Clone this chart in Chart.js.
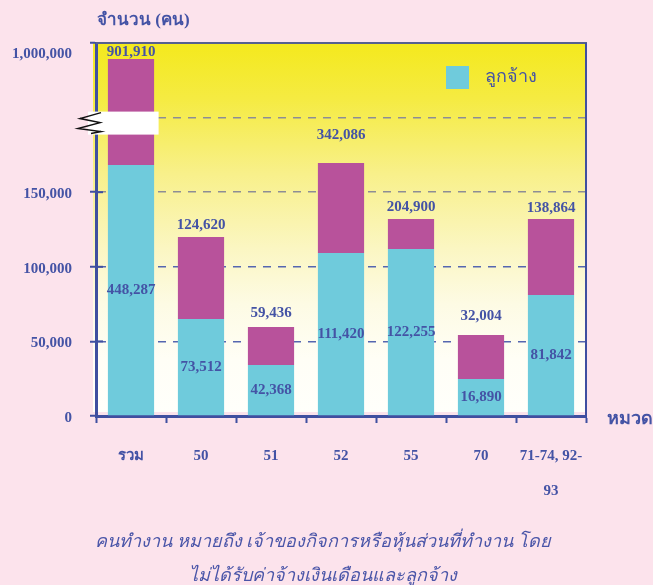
<!DOCTYPE html>
<html><head><meta charset="utf-8">
<script src="https://cdn.jsdelivr.net/npm/chart.js@4.4.1/dist/chart.umd.min.js"></script>
<style>html,body{margin:0;padding:0;background:#fce3ec;}canvas{display:block;}</style>
</head><body>
<canvas id="c" width="653" height="585"></canvas>
<script>
const categories = ['รวม', '50', '51', '52', '55', '70', ['71-74, 92-', '93']];
const employeeValues = [168200, 65000, 34200, 109200, 112000, 24800, 81100];
const ownerValues = [71000, 55000, 25500, 60300, 20000, 29500, 51000];
const employeeLabels = ['448,287', '73,512', '42,368', '111,420', '122,255', '16,890', '81,842'];
const totalLabels = ['901,910', '124,620', '59,436', '342,086', '204,900', '32,004', '138,864'];
const yTickValues = [0, 50000, 100000, 150000, 200000, 250000];
const yTickLabels = ['0', '50,000', '100,000', '150,000', '', '1,000,000'];
const legendLabel = 'ลูกจ้าง';
const yAxisTitle = 'จำนวน (คน)';
const xAxisTitle = 'หมวด';
const noteLines = ['คนทำงาน หมายถึง เจ้าของกิจการหรือหุ้นส่วนที่ทำงาน โดย', 'ไม่ได้รับค่าจ้างเงินเดือนและลูกจ้าง'];

const SERIF = "'Liberation Serif', 'Times New Roman', 'DejaVu Serif', serif";
const TXT = '#4453a5';
const AXIS = '#3f4fa0';
const CYAN = '#6fcbdc';
const MAGENTA = '#b8529b';

const decor = {
  id: 'decor',
  beforeDraw(chart) {
    const {ctx, chartArea: a} = chart;
    const g = ctx.createLinearGradient(0, a.top, 0, a.bottom);
    g.addColorStop(0, '#f4e91d');
    g.addColorStop(0.15, '#f5eb42');
    g.addColorStop(0.35, '#f8f08a');
    g.addColorStop(0.55, '#fbf6c2');
    g.addColorStop(0.7, '#fdfbe4');
    g.addColorStop(0.85, '#fffef6');
    g.addColorStop(1, '#fffffb');
    ctx.save();
    ctx.fillStyle = g;
    ctx.fillRect(a.left - 3, a.top, a.right - a.left + 3, a.bottom - a.top);
    ctx.fillStyle = '#fbe3ec';
    ctx.fillRect(a.left - 3, a.bottom - 4, a.right - a.left + 3, 4);
    ctx.restore();
  },
  afterDatasetsDraw(chart, args, opts) {
    const {ctx} = chart;
    const m0 = chart.getDatasetMeta(0).data;
    const m1 = chart.getDatasetMeta(1).data;
    ctx.save();
    ctx.font = 'bold 15px ' + SERIF;
    ctx.fillStyle = TXT;
    ctx.textAlign = 'center';
    ctx.textBaseline = 'middle';
    m0.forEach((bar, i) => {
      ctx.fillText(employeeLabels[i], bar.x, (bar.y + bar.base) / 2);
    });
    m1.forEach((bar, i) => {
      ctx.fillText(totalLabels[i], bar.x, bar.y - opts.topGap[i]);
    });
    ctx.restore();
  },
  afterDraw(chart) {
    const {ctx, chartArea: a, scales} = chart;
    const y = scales.y;
    ctx.save();
    // inward tick marks on the y axis
    ctx.strokeStyle = AXIS;
    ctx.lineWidth = 2;
    yTickValues.forEach(v => {
      const py = y.getPixelForValue(v);
      ctx.beginPath(); ctx.moveTo(a.left, py); ctx.lineTo(a.left + 7, py); ctx.stroke();
    });
    // top and right frame
    ctx.strokeStyle = '#56608e';
    ctx.lineWidth = 2;
    ctx.beginPath(); ctx.moveTo(a.left, a.top); ctx.lineTo(a.right + 1, a.top); ctx.stroke();
    ctx.strokeStyle = AXIS;
    ctx.beginPath(); ctx.moveTo(a.right, a.top); ctx.lineTo(a.right, a.bottom); ctx.stroke();
    // axis break
    const y0 = y.getPixelForValue(200000);
    const first = chart.getDatasetMeta(0).data[0];
    ctx.fillStyle = '#ffffff';
    ctx.fillRect(a.left - 8, y0 - 6, first.x + first.width / 2 + 4.5 - (a.left - 8), 23);
    ctx.strokeStyle = '#111111';
    ctx.lineWidth = 1.5;
    ctx.beginPath();
    const zz = [[5, -5], [-16, 1], [4, 5], [-18, 11], [5, 14], [-5, 16]];
    zz.forEach((p, i) => {
      const px = a.left + p[0], py = y0 + p[1];
      if (i === 0) ctx.moveTo(px, py); else ctx.lineTo(px, py);
    });
    ctx.stroke();
    // legend
    ctx.fillStyle = CYAN;
    ctx.fillRect(446, 66, 23, 23);
    ctx.fillStyle = TXT;
    ctx.font = '18px ' + SERIF;
    ctx.textAlign = 'left';
    ctx.textBaseline = 'middle';
    ctx.fillText(chart.data.datasets[0].label, 485, 77);
    // axis titles
    ctx.font = 'bold 17px ' + SERIF;
    ctx.fillText(yAxisTitle, 97, 21);
    ctx.font = 'bold 18px ' + SERIF;
    ctx.fillText(xAxisTitle, 607, 419);
    // notes
    ctx.font = 'italic 18px ' + SERIF;
    ctx.fillStyle = '#4a55a8';
    ctx.textAlign = 'center';
    ctx.fillText(noteLines[0], 323, 542);
    ctx.fillText(noteLines[1], 323, 576);
    ctx.restore();
  }
};

new Chart(document.getElementById('c'), {
  type: 'bar',
  data: {
    labels: categories,
    datasets: [
      { label: legendLabel, data: employeeValues, backgroundColor: CYAN, borderWidth: 0 },
      { label: 'เจ้าของ', data: ownerValues, backgroundColor: MAGENTA, borderWidth: 0 }
    ]
  },
  options: {
    responsive: false,
    animation: false,
    devicePixelRatio: 1,
    layout: { padding: { top: 43, right: 67, left: 0, bottom: 0 } },
    datasets: { bar: { categoryPercentage: 1, barPercentage: 0.66 } },
    plugins: {
      legend: { display: false },
      tooltip: { enabled: false },
      decor: { topGap: [7, 12, 14, 28, 12, 19, 11] }
    },
    scales: {
      x: {
        stacked: true,
        afterFit: (s) => { s.height = 169; },
        grid: { display: true, drawOnChartArea: false, drawTicks: true, tickLength: 7, tickColor: AXIS, tickWidth: 2 },
        border: { display: true, color: AXIS, width: 3 },
        ticks: { color: TXT, padding: 16, font: { family: SERIF, size: 15, weight: 'bold', lineHeight: 2.333 }, maxRotation: 0, autoSkip: false }
      },
      y: {
        stacked: true,
        min: 0,
        max: 250000,
        afterFit: (s) => { s.width = 96; },
        afterBuildTicks: (s) => { s.ticks = yTickValues.map(v => ({ value: v })); },
        grid: {
          color: (c) => (c.tick && c.tick.value >= 150000) ? '#8d8d95' : '#5566b0',
          lineWidth: 1.5,
          drawTicks: true, tickLength: 6, tickColor: AXIS, tickWidth: 2
        },
        border: { display: true, color: AXIS, width: 3, dash: [8, 7] },
        ticks: {
          color: TXT, padding: 18, labelOffset: 2,
          font: { family: SERIF, size: 15, weight: 'bold', lineHeight: 1.2 },
          callback: (v, i) => {
            const idx = yTickValues.indexOf(v);
            const t = idx >= 0 ? yTickLabels[idx] : '';
            return v === 250000 ? ['', t] : t;
          }
        }
      }
    }
  },
  plugins: [decor]
});
</script>
</body></html>
